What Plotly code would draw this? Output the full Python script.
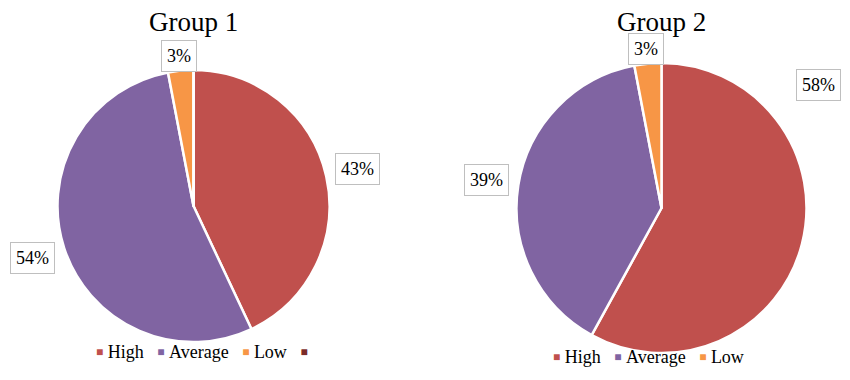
import math
import plotly.graph_objects as go

# ---------------- data ----------------
group_titles = ["Group 1", "Group 2"]
categories_g1 = ["High", "Average", "Low", ""]
values_g1 = [43, 54, 3, 0]
categories_g2 = ["High", "Average", "Low"]
values_g2 = [58, 39, 3]

# ---------------- styles / layout ----------------
W, H = 850, 380
FONT = "Liberation Serif, Times New Roman, serif"
slice_colors = ["#C0504D", "#8064A2", "#F79646", "#7B2C2A"]

# pie geometry in pixels: centre x, centre y, radius, legend centre
pies = [
    dict(cx=193.5, cy=206, r=136, legend_xy=(201.5, 352)),
    dict(cx=661.5, cy=208, r=145, legend_xy=(648.5, 357)),
]
# Excel "best fit" moved one label; (angle deg clockwise from top, distance px)
label_override = {(1, 0): (52, 199)}

datasets = [(categories_g1, values_g1), (categories_g2, values_g2)]
NB = "\u00a0"

fig = go.Figure()
annotations = []

for gi, ((cats, vals), geo) in enumerate(zip(datasets, pies)):
    cx, cy, r = geo["cx"], geo["cy"], geo["r"]
    dom_x = [(cx - r) / W, (cx + r) / W]
    dom_y = [1 - (cy + r) / H, 1 - (cy - r) / H]
    fig.add_trace(go.Pie(
        labels=[c if c else " " for c in cats], values=vals, sort=False,
        direction="clockwise", rotation=0,
        marker=dict(colors=slice_colors[:len(cats)], line=dict(color="white", width=2.5)),
        textinfo="none", hoverinfo="label+percent", domain=dict(x=dom_x, y=dom_y),
        showlegend=False, name=group_titles[gi],
    ))

    # title
    annotations.append(dict(
        text=group_titles[gi], x=cx / W, y=1 - 22 / H, xref="paper", yref="paper",
        xanchor="center", yanchor="middle", showarrow=False,
        font=dict(family=FONT, size=27, color="black"),
    ))

    # boxed percentage labels placed outside slice midpoints
    total = sum(vals)
    cum = 0
    for si, v in enumerate(vals):
        if v <= 0:
            continue
        share = v / total
        mid = (cum + v / 2) / total * 360
        cum += v
        txt = f"{round(share * 100)}%"
        hw = 8 + 4.8 * len(txt)  # approx half box width
        hh = 13.5
        if (gi, si) in label_override:
            ang, d = label_override[(gi, si)]
        else:
            ang = mid
            ux, uy = math.sin(math.radians(ang)), -math.cos(math.radians(ang))
            gap = 0 if share < 0.05 else 7.5
            d = r + gap + abs(ux) * hw + abs(uy) * hh
        ux, uy = math.sin(math.radians(ang)), -math.cos(math.radians(ang))
        px, py = cx + d * ux, cy + d * uy
        annotations.append(dict(
            text=txt, x=px / W, y=1 - py / H, xref="paper", yref="paper",
            xanchor="center", yanchor="middle", showarrow=False,
            font=dict(family=FONT, size=18, color="black"),
            bordercolor="#BFBFBF", borderwidth=1, borderpad=5, bgcolor="white",
        ))

    # legend row (small coloured squares + category names)
    parts = []
    for ci, c in enumerate(cats):
        sq = (f"<span style='color:{slice_colors[ci]};font-size:12px;"
              f"baseline-shift:2.5px'>\u25A0</span>")
        parts.append(sq + (NB + c if c else ""))
    legend_text = (NB * 3).join(parts)
    lx, ly = geo["legend_xy"]
    annotations.append(dict(
        text=legend_text, x=lx / W, y=1 - ly / H, xref="paper", yref="paper",
        xanchor="center", yanchor="middle", showarrow=False,
        font=dict(family=FONT, size=18, color="black"),
    ))

fig.update_layout(
    width=W, height=H,
    margin=dict(l=0, r=0, t=0, b=0),
    paper_bgcolor="white", plot_bgcolor="white",
    annotations=annotations,
    showlegend=False,
)

fig.write_html("out.html", config={"displayModeBar": False},
               post_script="document.body.style.margin='0';")
